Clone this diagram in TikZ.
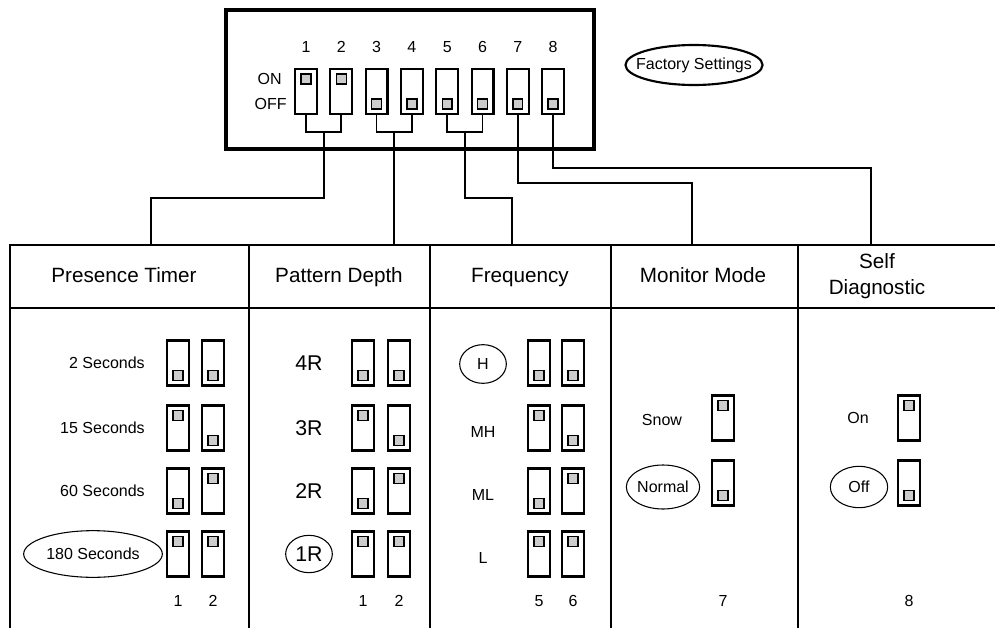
\documentclass[tikz,border=0pt]{standalone}
\usepackage{fontspec}
\setmainfont{Liberation Sans}
\usetikzlibrary{calc,positioning,shapes.geometric}

% one dip switch: x, y, name, 1 = on (knob up)
\newcommand{\dipsw}[4]{%
  \node[dipbody] (#3) at ({#1},{#2}) {};
  \ifnum#4=1 \node[dipknob] (#3k) at ({#1},{#2-12.5}) {};
  \else \node[dipknob] (#3k) at ({#1},{#2+12.5}) {};\fi
}

\begin{document}
\begin{tikzpicture}[x=0.75pt,y=-0.75pt,
  dipbody/.style={draw,line width=1.6pt,minimum width=16.4pt,minimum height=33.7pt,inner sep=0pt},
  dipknob/.style={draw,line width=1.1pt,fill=gray!40,minimum size=7.4pt,inner sep=0pt},
  wire/.style={line width=1.3pt},
  grid/.style={line width=1.3pt},
  head/.style={font=\fontsize{15.5}{19}\selectfont,align=center},
  lab/.style={font=\fontsize{12}{14}\selectfont},
  big/.style={font=\fontsize{16}{18}\selectfont},
  pick/.style={draw,ellipse,line width=0.8pt,inner sep=0pt}]
\useasboundingbox (0,0) rectangle (995,628);

% switch block
\draw[line width=3pt] (226,10) rectangle (594,149);
\foreach \i/\st in {1/1,2/1,3/0,4/0,5/0,6/0,7/0,8/0}{
  \pgfmathsetmacro\xx{306+35.3*(\i-1)}
  \node[lab] (n\i) at (\xx,47) {\i};
  \dipsw{\xx}{91.5}{s\i}{\st}
}
\node[lab,anchor=east,inner sep=0pt] (on) at (282,79) {ON};
\node[lab,anchor=east,inner sep=0pt] (off) at (287,104) {OFF};
\node[pick,lab,line width=1.6pt,inner xsep=-7pt,minimum height=30pt] (factory) at (694,65) {Factory Settings};

% table
\draw[grid] (10,628) -- (10,245) -- (995,245);
\draw[grid] (10,308) -- (995,308);
\foreach \x in {249,430,611,798}{\draw[grid] (\x,245) -- (\x,628);}
\node[head,text height=11pt,text depth=3pt] (h1) at (124,277) {Presence Timer};
\node[head,text height=11pt,text depth=3pt] (h2) at (339,277) {Pattern Depth};
\node[head,text height=11pt,text depth=3pt] (h3) at (520,277) {Frequency};
\node[head,text height=11pt,text depth=3pt] (h4) at (703,277) {Monitor Mode};
\node[head] (h5) at (877,276) {Self\\Diagnostic};

% wires from the block down to the table
\coordinate (b12) at (324,132);
\coordinate (b34) at (394,132);
\coordinate (b56) at (465,132);
\coordinate (t1) at (151,245);
\coordinate (t2) at (394,245);
\coordinate (t3) at (512,245);
\coordinate (t4) at (692,245);
\coordinate (t5) at (871,245);
\draw[wire] (s1.south) |- (b12) -| (s2.south);
\draw[wire] (s3.south) |- (b34) -| (s4.south);
\draw[wire] (s5.south) |- (b56) -| (s6.south);
\draw[wire] (b12) -- ++(0,66) -| (t1);
\draw[wire] (b34) -- (t2);
\draw[wire] (b56) -- ++(0,66) -| (t3);
\draw[wire] (s7.south) -- ++(0,68) -| (t4);
\draw[wire] (s8.south) -- ++(0,53) -| (t5);

% presence timer
\foreach \y/\a/\b/\t in {363/0/0/2 Seconds,428/1/0/15 Seconds,491/0/1/60 Seconds}{
  \node[lab,anchor=east,inner sep=0pt] (pl\y) at (145,\y) {\t};
  \dipsw{178}{\y}{pa\y}{\a}
  \dipsw{213}{\y}{pb\y}{\b}
}
\node[pick,lab,minimum width=104pt,minimum height=35pt] (pl554) at (93,554) {180 Seconds};
\dipsw{178}{554}{pa554}{1}
\dipsw{213}{554}{pb554}{1}

% pattern depth
\foreach \y/\a/\b/\t in {363/0/0/4R,428/1/0/3R,491/0/1/2R}{
  \node[big] (dl\y) at (309,\y) {\t};
  \dipsw{363}{\y}{da\y}{\a}
  \dipsw{399}{\y}{db\y}{\b}
}
\node[pick,big,minimum width=35pt,minimum height=28pt] (dl554) at (309,554) {1R};
\dipsw{363}{554}{da554}{1}
\dipsw{399}{554}{db554}{1}

% frequency
\node[pick,lab,minimum width=35pt,minimum height=29pt] (fl363) at (483,364) {H};
\foreach \y/\a/\b/\t in {428/1/0/MH,491/0/1/ML,554/1/1/L}{
  \node[lab] (fl\y) at (483,\y+4) {\t};
}
\foreach \y/\a/\b in {363/0/0,428/1/0,491/0/1,554/1/1}{
  \dipsw{539}{\y}{fa\y}{\a}
  \dipsw{573}{\y}{fb\y}{\b}
}

% monitor mode
\node[lab] (ml1) at (662,420) {Snow};
\node[pick,lab,minimum width=55pt,minimum height=33pt] (ml2) at (663,487) {Normal};
\dipsw{723}{418}{ma1}{1}
\dipsw{723}{483}{ma2}{0}

% self diagnostic
\node[lab] (sl1) at (858,418) {On};
\node[pick,lab,minimum width=43pt,minimum height=31pt] (sl2) at (859,487) {Off};
\dipsw{909}{418}{sa1}{1}
\dipsw{909}{483}{sa2}{0}

% switch numbers under the columns
\foreach \x/\t in {178/1,213/2,363/1,399/2,539/5,573/6,723/7,909/8}{
  \node[lab] (c\x) at (\x,601) {\t};
}
\end{tikzpicture}
\end{document}
